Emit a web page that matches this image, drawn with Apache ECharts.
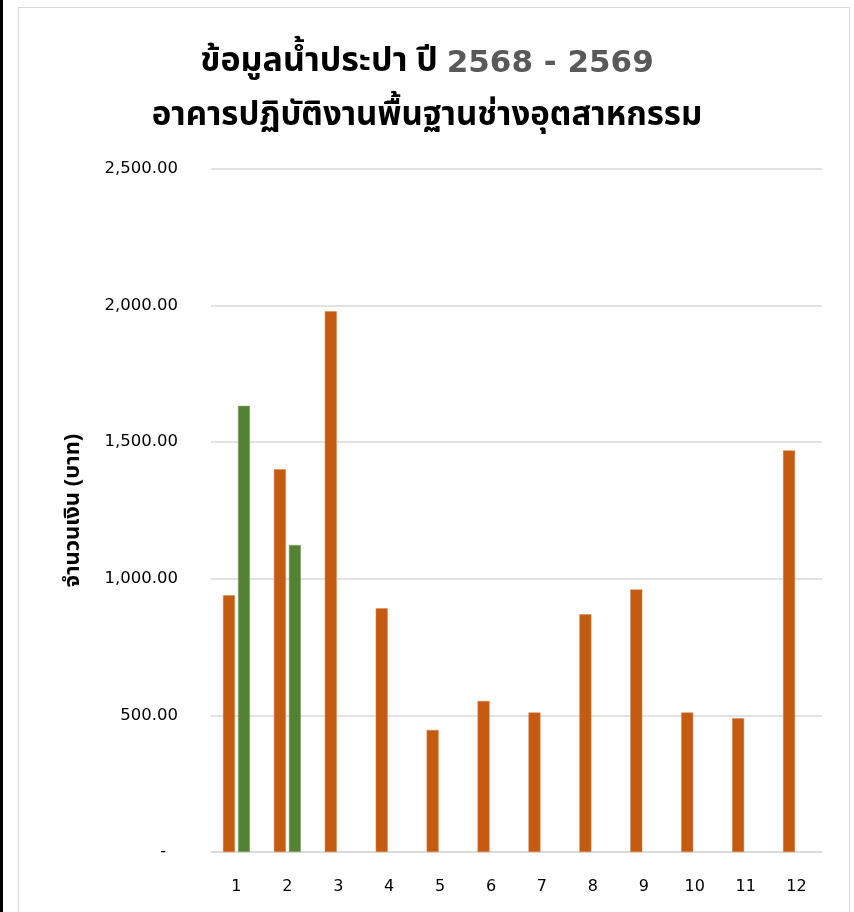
<!DOCTYPE html>
<html>
<head>
<meta charset="utf-8">
<script src="https://cdn.jsdelivr.net/npm/echarts@6/dist/echarts.min.js"></script>
<style>
  html, body { margin: 0; padding: 0; background: #fff; }
  #strip { position: absolute; left: 0; top: 0; width: 3px; height: 912px; background: #000; }
  #frame { position: absolute; left: 18px; top: 7px; width: 832px; height: 920px; border: 1.5px solid #d9d9d9; box-sizing: border-box; }
  #chart { position: absolute; left: 0; top: 0; width: 854px; height: 912px; }
</style>
</head>
<body>
<div id="strip"></div>
<div id="frame"></div>
<div id="chart"></div>
<script>
const categories = ['1', '2', '3', '4', '5', '6', '7', '8', '9', '10', '11', '12'];
const values2568 = [940, 1401, 1979, 892, 447, 553, 511, 870, 961, 511, 490, 1470];
const values2569 = [1633, 1124, null, null, null, null, null, null, null, null, null, null];
const yTicks = { min: 0, max: 2500, interval: 500 };
const titleLine1a = 'ข้อมูลน้ำประปา ปี ';
const titleLine1b = '2568 - 2569';
const titleLine2 = 'อาคารปฏิบัติงานพื้นฐานช่างอุตสาหกรรม';
const yAxisName = 'จำนวนเงิน (บาท)';

const FONT = 'Tahoma, "Noto Sans Thai", "Noto Sans", "DejaVu Sans", sans-serif';
const NUMFONT = '"DejaVu Sans", Tahoma, sans-serif';
const chart = echarts.init(document.getElementById('chart'), null, { renderer: 'canvas' });
chart.setOption({
  animation: false,
  backgroundColor: 'transparent',
  title: {
    left: 'center',
    top: 32,
    text: '{a|' + titleLine1a + '}{b|' + titleLine1b + '}\n{c|' + titleLine2 + '}',
    textStyle: {
      fontFamily: FONT,
      rich: {
        a: { fontSize: 34, fontWeight: 'bold', color: '#000', fontFamily: FONT, lineHeight: 54 },
        b: { fontSize: 31, fontWeight: 'bold', color: '#595959', fontFamily: NUMFONT, lineHeight: 54 },
        c: { fontSize: 33, fontWeight: 'bold', color: '#000', fontFamily: FONT, lineHeight: 54 }
      }
    }
  },
  grid: { left: 211, right: 32, top: 169, bottom: 60, containLabel: false },
  xAxis: {
    type: 'category',
    data: categories,
    axisTick: { show: false },
    axisLine: { lineStyle: { color: '#d9d9d9', width: 1.5 } },
    axisLabel: { color: '#000', fontSize: 16, fontFamily: NUMFONT, margin: 27 }
  },
  yAxis: {
    type: 'value',
    min: yTicks.min,
    max: yTicks.max,
    interval: yTicks.interval,
    name: yAxisName,
    nameLocation: 'middle',
    nameGap: 125,
    nameRotate: 90,
    nameTextStyle: { color: '#000', fontSize: 22, fontWeight: 'bold', fontFamily: FONT },
    axisLine: { show: false },
    axisTick: { show: false },
    splitLine: { lineStyle: { color: '#d9d9d9', width: 1.5 } },
    axisLabel: {
      color: '#000',
      fontSize: 16.5,
      fontFamily: NUMFONT,
      margin: 33,
      formatter: function (v) {
        if (v === 0) return '{d|-}';
        return v.toLocaleString('en-US', { minimumFractionDigits: 2, maximumFractionDigits: 2 });
      },
      rich: { d: { fontSize: 16, color: '#000', padding: [0, 12, 0, 0], fontFamily: NUMFONT } }
    }
  },
  series: [
    {
      name: '2568',
      type: 'bar',
      data: values2568,
      barWidth: 12,
      barGap: '25%',
      itemStyle: { color: '#C55A11', borderColor: '#d8865a', borderWidth: 0.5 }
    },
    {
      name: '2569',
      type: 'bar',
      data: values2569,
      barWidth: 12,
      barGap: '25%',
      itemStyle: { color: '#548235', borderColor: '#8aa878', borderWidth: 0.5 }
    }
  ]
});
</script>
</body>
</html>
